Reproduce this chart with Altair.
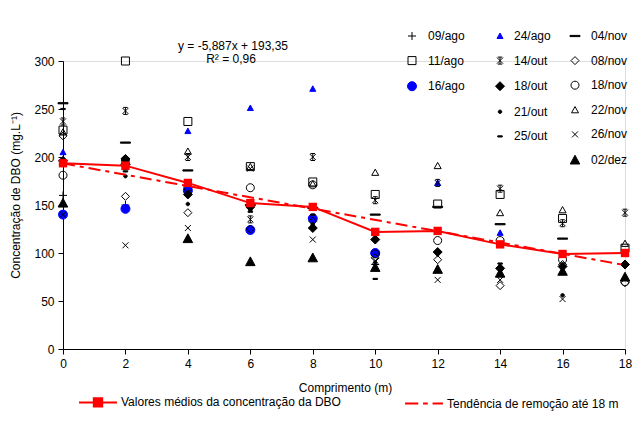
import altair as alt
import pandas as pd

FONT = "Liberation Sans"

comprimento = [0, 2, 4, 6, 8, 10, 12, 14, 16, 18]

d_09ago = [160, 150, 163, None, None, 88, None, None, None, None]
d_11ago = [228, 300, 237, 190, 174, 161, 151, 161, 136, 105]
d_16ago = [140, 146, 165, 124, 136, 100, None, None, None, None]
d_24ago = [205, None, 227, 251, 271, None, 173, 121, None, None]
d_14out = [237, 248, 200, 135, 200, 155, 173, 167, 131, 142]
d_18out = [196, 198, 161, 148, 126, 114, 101, 84, 86, 88]
d_21out = [195, 180, 151, 145, 130, 90, None, None, 56, None]
d_25out = [250, 185, 170, 143, 140, 73, None, 89, None, None]
d_04nov = [256, 215, 186, 150, 147, 140, 148, 130, 115, None]
d_08nov = [222, 159, 142, 125, 133, 95, 93, 66, 88, 69]
d_18nov = [181, 197, 168, 168, 171, 99, 113, 113, 93, 70]
d_22nov = [226, 190, 206, 190, 172, 184, 191, 142, 145, 110]
d_26nov = [140, 108, 126, 188, 114, 92, 72, 72, 52, None]
d_02dez = [152, 196, 115, 91, 95, 85, 83, 79, 81, 75]

media_dbo = [193.5, 191, 173, 152, 148, 122, 123, 109, 99, 100]
tendencia_x = [0, 18]
tendencia_y = [193.35, 87.38]

grupo_1 = ["09/ago", "11/ago", "16/ago"]
grupo_2 = ["24/ago", "14/out", "18/out", "21/out", "25/out"]
grupo_3 = ["04/nov", "08/nov", "18/nov", "22/nov", "26/nov", "02/dez"]

serie_media = "Valores médios da concentração da DBO"
serie_tend = "Tendência de remoção até 18 m"
equacao = ["y = -5,887x + 193,35", "R² = 0,96"]
titulo_x = "Comprimento (m)"
titulo_y = "Concentração  de DBO (mg.L⁻¹)"

series = {
    "09/ago": d_09ago, "11/ago": d_11ago, "16/ago": d_16ago,
    "24/ago": d_24ago, "14/out": d_14out, "18/out": d_18out,
    "21/out": d_21out, "25/out": d_25out, "04/nov": d_04nov,
    "08/nov": d_08nov, "18/nov": d_18nov, "22/nov": d_22nov,
    "26/nov": d_26nov, "02/dez": d_02dez,
}

T = "transparent"
# marker styles: path, fill, stroke
estilos = {
    "09/ago": ("M-0.8,0H0.8M0,-0.8V0.8", T, "black"),
    "11/ago": ("M-0.8,-0.8H0.8V0.8H-0.8Z", T, "black"),
    "16/ago": ("M0.9,0A0.9,0.9 0 1,1 -0.9,0A0.9,0.9 0 1,1 0.9,0Z", "#0000FF", "#0000FF"),
    "24/ago": ("M0,-0.6L0.6,0.5H-0.6Z", "#0000FF", "#0000FF"),
    "14/out": ("M-0.6,-0.6L0.6,0.6M-0.6,0.6L0.6,-0.6M0,-0.7V0.7M-0.45,-0.7H0.45M-0.45,0.7H0.45", T, "black"),
    "18/out": ("M0,-0.9L0.9,0L0,0.9L-0.9,0Z", "black", "black"),
    "21/out": ("M0.35,0A0.35,0.35 0 1,1 -0.35,0A0.35,0.35 0 1,1 0.35,0Z", "black", "black"),
    "25/out": ("M-0.45,-0.12H0.45V0.12H-0.45Z", "black", "black"),
    "04/nov": ("M-1,-0.12H1V0.12H-1Z", "black", "black"),
    "08/nov": ("M0,-0.8L0.8,0L0,0.8L-0.8,0Z", T, "black"),
    "18/nov": ("M0.8,0A0.8,0.8 0 1,1 -0.8,0A0.8,0.8 0 1,1 0.8,0Z", T, "black"),
    "22/nov": ("M0,-0.65L0.7,0.6H-0.7Z", T, "black"),
    "26/nov": ("M-0.6,-0.6L0.6,0.6M-0.6,0.6L0.6,-0.6", T, "black"),
    "02/dez": ("M0,-0.95L0.95,0.8H-0.95Z", "black", "black"),
}

x_scale = alt.Scale(domain=[0, 18], nice=False, zero=False)
y_scale = alt.Scale(domain=[0, 300], nice=False)

x_axis = alt.Axis(values=comprimento, tickSize=5, tickColor="black", domainColor="black",
                  labelColor="black", labelFont=FONT, labelFontSize=12, labelPadding=4,
                  grid=False, title=titulo_x, titleFont=FONT, titleFontSize=12,
                  titleFontWeight="normal", titleColor="black", titleX=282, titleY=38,
                  titleBaseline="middle", titleAlign="center", labelFlush=False)
y_axis = alt.Axis(values=[0, 50, 100, 150, 200, 250, 300], tickSize=5, tickColor="black",
                  domainColor="black", labelColor="black", labelFont=FONT, labelFontSize=12,
                  labelPadding=4, grid=False, title=titulo_y, titleFont=FONT, titleFontSize=12,
                  titleFontWeight="normal", titleColor="black", titleX=-48, titleY=134,
                  titleAngle=270, titleAlign="center", titleBaseline="middle", labelFlush=False)

X = alt.X("x:Q", scale=x_scale, axis=x_axis)
Y = alt.Y("y:Q", scale=y_scale, axis=y_axis)


def camada_pontos(grupo, lx, ly, loff):
    rows = [{"x": x, "y": v, "data": d}
            for d in grupo for x, v in zip(comprimento, series[d]) if v is not None]
    df = pd.DataFrame(rows)
    leg = alt.Legend(title=None, orient="none", legendX=lx, legendY=ly, direction="vertical",
                     symbolSize=100, symbolStrokeWidth=1, labelFont=FONT, labelFontSize=12,
                     labelColor="black", labelOffset=loff, rowPadding=12.6, padding=0,
                     symbolOpacity=1)
    return alt.Chart(df).mark_point(size=100, filled=True, strokeWidth=1, opacity=1,
                                    clip=False).encode(
        x=X, y=Y,
        shape=alt.Shape("data:N", scale=alt.Scale(domain=grupo, range=[estilos[d][0] for d in grupo]), legend=leg),
        fill=alt.Fill("data:N", scale=alt.Scale(domain=grupo, range=[estilos[d][1] for d in grupo]), legend=leg),
        stroke=alt.Stroke("data:N", scale=alt.Scale(domain=grupo, range=[estilos[d][2] for d in grupo]), legend=leg),
    )


p1 = camada_pontos(grupo_1, 343, -31, 10)
p2 = camada_pontos(grupo_2, 431, -31, 8)
p3 = camada_pontos(grupo_3, 506, -31, 10)

df_media = pd.DataFrame({"x": comprimento, "y": media_dbo, "serie": serie_media})
df_tend = pd.DataFrame({"x": tendencia_x, "y": tendencia_y, "serie": serie_tend})
df_linhas = pd.concat([df_media, df_tend], ignore_index=True)

linha_media = alt.Chart(df_media).mark_line(color="#FF0000", strokeWidth=2, clip=False).encode(x=X, y=Y)
pontos_media = alt.Chart(df_media).mark_point(shape="square", filled=True, color="#FF0000",
                                              size=70, opacity=1, clip=False).encode(x=X, y=Y)
linha_tend = alt.Chart(df_tend).mark_line(color="#FF0000", strokeWidth=2,
                                          strokeDash=[12, 5, 4, 5], clip=False).encode(x=X, y=Y)

dom_linhas = [serie_media, serie_tend]
leg_b = alt.Legend(title=None, orient="none", legendX=15, legendY=321, direction="horizontal",
                   symbolSize=1444, symbolStrokeWidth=2, labelFont=FONT, labelFontSize=12,
                   labelColor="black", labelOffset=3, columnPadding=60, padding=0,
                   labelLimit=400, symbolOpacity=1)
legenda_linhas = alt.Chart(df_linhas).mark_point(size=0, filled=True, opacity=1).encode(
    x=X, y=Y,
    shape=alt.Shape("serie:N", scale=alt.Scale(domain=dom_linhas, range=[
        "M-1,0H1M-0.22,-0.22H0.22V0.22H-0.22Z",
        "M-1,0H-0.3M-0.05,0H0.2M0.45,0H1"]), legend=leg_b),
    fill=alt.Fill("serie:N", scale=alt.Scale(domain=dom_linhas, range=["#FF0000", T]), legend=leg_b),
    stroke=alt.Stroke("serie:N", scale=alt.Scale(domain=dom_linhas, range=["#FF0000", "#FF0000"]), legend=leg_b),
)

df_eq1 = pd.DataFrame({"t": [equacao[0]]})
df_eq2 = pd.DataFrame({"t": [equacao[1]]})
texto_1 = alt.Chart(df_eq1).mark_text(font=FONT, fontSize=12, color="black",
                                      align="center", baseline="middle").encode(
    text="t:N", x=alt.value(170), y=alt.value(-15))
texto_2 = alt.Chart(df_eq2).mark_text(font=FONT, fontSize=12, color="black",
                                      align="center", baseline="middle").encode(
    text="t:N", x=alt.value(168), y=alt.value(-2))

chart = alt.layer(
    p1, p2, p3, legenda_linhas, linha_tend, linha_media, pontos_media, texto_1, texto_2
).resolve_scale(
    shape="independent", fill="independent", stroke="independent"
).resolve_legend(
    shape="independent", fill="independent", stroke="independent"
).properties(
    width=562, height=288,
    autosize=alt.AutoSizeParams(type="none"),
    padding={"left": 55, "top": 53, "right": 8, "bottom": 64},
).configure_view(strokeWidth=0).configure(background="white")

chart.save("out.html", embed_options={"renderer": "svg", "actions": False})
